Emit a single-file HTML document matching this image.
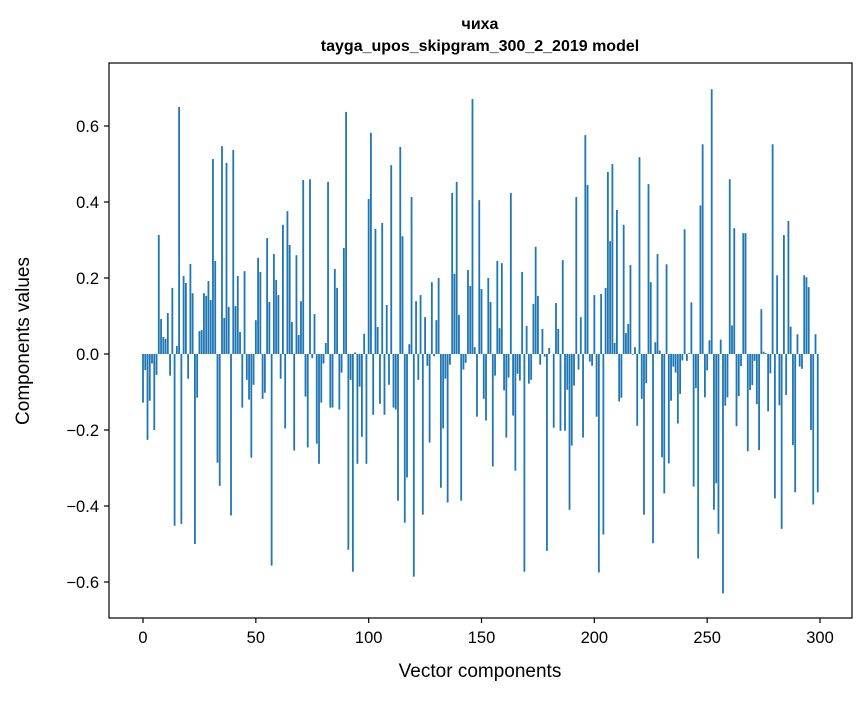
<!DOCTYPE html>
<html><head><meta charset="utf-8"><style>
body{margin:0;background:#fff;}
svg text{font-family:"Liberation Sans","DejaVu Sans",sans-serif;fill:#000;}
</style></head><body>
<svg id="chart" width="867" height="696" xmlns="http://www.w3.org/2000/svg">
<text x="480" y="29" text-anchor="middle" font-size="16" font-weight="bold">чиха</text>
<text x="480" y="51" text-anchor="middle" font-size="16" font-weight="bold">tayga_upos_skipgram_300_2_2019 model</text>
<g id="bars"></g>
<rect x="109" y="63" width="743" height="555" fill="none" stroke="#000" stroke-width="1.2"/>
<g id="xticks"></g>
<g id="yticks"></g>
<text x="480" y="677" text-anchor="middle" font-size="19">Vector components</text>
<text transform="translate(29,341) rotate(-90)" text-anchor="middle" font-size="19">Components values</text>
</svg>
<script>
const values = [
-0.128,-0.042,-0.226,-0.123,-0.025,-0.2,-0.055,0.313,0.092,0.045,
0.04,0.108,-0.057,0.174,-0.452,0.021,0.65,-0.447,0.205,0.187,
-0.065,0.237,0.16,-0.5,-0.115,0.06,0.063,0.16,0.153,0.192,
0.142,0.513,0.245,-0.286,-0.347,0.547,0.095,0.503,0.124,-0.425,
0.537,0.126,0.205,0.058,-0.141,0.218,-0.068,-0.12,-0.273,-0.081,
0.089,0.253,0.216,-0.118,-0.102,0.305,0.137,-0.557,0.263,0.195,
0.155,-0.065,0.34,-0.196,0.376,0.287,0.084,-0.254,0.26,0.05,
0.139,0.458,-0.112,-0.246,0.46,-0.011,0.105,-0.236,-0.289,-0.128,
-0.025,0.029,0.453,-0.141,-0.141,0.224,0.174,-0.146,-0.049,0.279,
0.637,-0.515,-0.068,-0.573,0.004,-0.289,-0.086,-0.218,0.053,-0.289,
0.408,0.582,-0.16,0.329,0.071,-0.131,0.345,-0.16,0.129,-0.081,
0.497,-0.141,-0.146,-0.386,0.545,0.31,-0.444,-0.325,0.026,0.413,
-0.586,0.139,-0.068,0.155,-0.423,0.097,-0.031,-0.233,0.189,-0.006,
0.089,0.2,-0.352,-0.196,-0.065,-0.391,-0.028,0.424,0.211,0.453,
0.103,-0.386,-0.041,-0.023,0.221,0.179,0.671,0.018,-0.165,0.405,
0.171,-0.118,-0.175,0.2,0.137,-0.296,-0.057,0.245,0.068,0.239,
-0.096,-0.22,-0.062,0.424,-0.162,-0.307,-0.052,-0.07,0.216,-0.573,
0.074,-0.078,-0.068,0.132,0.282,0.153,-0.028,0.066,-0.007,-0.518,
0.016,0.0,-0.194,0.134,0.066,-0.202,0.247,-0.202,-0.094,-0.41,
-0.241,-0.083,0.413,-0.041,0.097,-0.22,0.576,0.445,-0.02,-0.031,
0.155,-0.165,-0.575,0.158,-0.475,0.174,0.479,0.297,0.5,0.029,
0.379,-0.125,-0.115,0.34,0.055,0.079,0.234,-0.002,0.018,-0.189,
0.518,-0.118,-0.423,-0.077,0.447,0.189,-0.498,0.031,0.263,0.009,
-0.272,-0.367,0.236,-0.288,-0.123,-0.033,-0.049,-0.183,-0.105,-0.017,
0.328,-0.018,0.002,0.136,-0.349,-0.09,-0.538,0.391,0.552,-0.114,
-0.043,0.036,0.697,-0.41,-0.34,-0.473,0.038,-0.63,-0.136,-0.114,
0.46,0.075,0.331,-0.19,-0.111,-0.032,0.318,0.318,-0.256,-0.095,
-0.082,-0.018,-0.132,-0.253,0.118,0.006,0.002,-0.151,-0.051,0.552,
-0.38,0.207,-0.135,-0.46,0.313,-0.108,0.35,0.072,-0.24,-0.364,
0.052,-0.033,-0.039,0.207,0.202,0.176,-0.2,-0.396,0.052,-0.364
];
const xTickValues = [0,50,100,150,200,250,300];
const yTickValues = [-0.6,-0.4,-0.2,0.0,0.2,0.4,0.6];
const yTickLabels = ["\u22120.6","\u22120.4","\u22120.2","0.0","0.2","0.4","0.6"];

const NS="http://www.w3.org/2000/svg";
function xScale(v){return 143 + v*2.2567;}
function yScale(v){return 354 - v*380;}
const bars=document.getElementById('bars');
values.forEach((v,i)=>{
  const r=document.createElementNS(NS,'rect');
  
  
  const x0=xScale(i-0.4), x1=xScale(i+0.4);
  const y0=yScale(Math.max(v,0)), y1=yScale(Math.min(v,0));
  r.setAttribute('x',x0);r.setAttribute('width',x1-x0);
  r.setAttribute('y',y0);r.setAttribute('height',Math.max(y1-y0,0.01));
  r.setAttribute('fill','#1f77b4');
  bars.appendChild(r);
});
const xt=document.getElementById('xticks');
xTickValues.forEach(t=>{
  const x=xScale(t);
  const l=document.createElementNS(NS,'line');
  
  
  l.setAttribute('x1',x);l.setAttribute('x2',x);l.setAttribute('y1',618);l.setAttribute('y2',623);
  l.setAttribute('stroke','#000');l.setAttribute('stroke-width','1.2');
  xt.appendChild(l);
  const tx=document.createElementNS(NS,'text');
  
  
  tx.setAttribute('x',x);tx.setAttribute('y',643);tx.setAttribute('text-anchor','middle');tx.setAttribute('font-size','16.5');
  tx.textContent=t;
  xt.appendChild(tx);
});
const yt=document.getElementById('yticks');
yTickValues.forEach((t,i)=>{
  const y=yScale(t);
  const l=document.createElementNS(NS,'line');
  
  
  l.setAttribute('x1',104);l.setAttribute('x2',109);l.setAttribute('y1',y);l.setAttribute('y2',y);
  l.setAttribute('stroke','#000');l.setAttribute('stroke-width','1.2');
  yt.appendChild(l);
  const tx=document.createElementNS(NS,'text');
  
  
  tx.setAttribute('x',99);tx.setAttribute('y',y+6);tx.setAttribute('text-anchor','end');tx.setAttribute('font-size','16.5');
  tx.textContent=yTickLabels[i];
  yt.appendChild(tx);
});
</script>
</body></html>
